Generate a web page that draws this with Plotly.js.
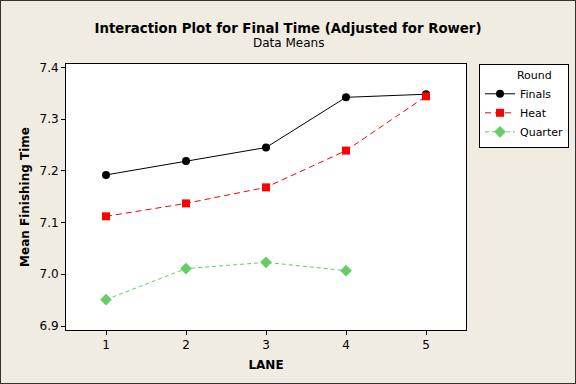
<!DOCTYPE html>
<html>
<head>
<meta charset="utf-8">
<script src="https://cdn.plot.ly/plotly-3.0.1.min.js"></script>
<style>
  html, body { margin: 0; padding: 0; background: #F0ECE2; }
  #wrap { position: relative; width: 576px; height: 384px; }
  #chart { width: 576px; height: 384px; }
  #frame { position: absolute; left: 0; top: 0; width: 574px; height: 382px; border: 1px solid #333; pointer-events: none; }
</style>
</head>
<body>
<div id="wrap"><div id="chart"></div><div id="frame"></div></div>
<script>
const lanes = [1, 2, 3, 4, 5];
const finals = [7.192, 7.219, 7.245, 7.342, 7.348];
const heat = [7.112, 7.137, 7.168, 7.239, 7.344];
const quarterLanes = [1, 2, 3, 4];
const quarter = [6.951, 7.011, 7.023, 7.007];
const yTicks = [6.9, 7.0, 7.1, 7.2, 7.3, 7.4];

const font = 'Tahoma, "DejaVu Sans", sans-serif';

const traces = [
  { x: lanes, y: finals, name: 'Finals', mode: 'lines+markers',
    line: { color: '#000000', width: 1, dash: 'solid' },
    marker: { color: '#000000', symbol: 'circle', size: 8 } },
  { x: lanes, y: heat, name: 'Heat', mode: 'lines+markers',
    line: { color: '#FF0000', width: 1, dash: '6px,4px' },
    marker: { color: '#FF0000', symbol: 'square', size: 8 } },
  { x: quarterLanes, y: quarter, name: 'Quarter', mode: 'lines+markers',
    line: { color: '#66CC66', width: 1, dash: '4px,3px' },
    marker: { color: '#66CC66', symbol: 'diamond', size: 9 } }
];

const layout = {
  width: 576, height: 384,
  paper_bgcolor: '#F0ECE2', plot_bgcolor: '#FFFFFF',
  margin: { l: 66, r: 110, t: 64, b: 54 },
  font: { family: font, size: 11, color: '#000000' },
  title: { text: '<b>Interaction Plot for Final Time (Adjusted for Rower)</b>',
    font: { family: font, size: 13.3, color: '#000000' },
    x: 0.5, xref: 'container', xanchor: 'center', y: 1 - 28.5/384, yref: 'container', yanchor: 'middle' },
  annotations: [
    { text: 'Data Means', xref: 'paper', yref: 'paper', x: 0.5 * (576/400) - 66/400, y: 1 + 21/266,
      xanchor: 'center', yanchor: 'middle', showarrow: false, font: { family: font, size: 12, color: '#000' } }
  ],
  xaxis: {
    range: [0.5, 5.5], tickvals: lanes, ticktext: lanes.map(String),
    showline: true, linecolor: '#000', linewidth: 1, mirror: true,
    ticks: 'outside', ticklen: 4, tickcolor: '#000', showgrid: false, zeroline: false,
    tickfont: { family: font, size: 12, color: '#000' },
    title: { text: '<b>LANE</b>', font: { family: font, size: 12, color: '#000' }, standoff: 9 }
  },
  yaxis: {
    range: [6.8923, 7.4064], tickvals: yTicks, ticktext: yTicks.map(v => v.toFixed(1)),
    showline: true, linecolor: '#000', linewidth: 1, mirror: true,
    ticks: 'outside', ticklen: 4, tickcolor: '#000', showgrid: false, zeroline: false,
    tickfont: { family: font, size: 12, color: '#000' },
    title: { text: '<b>Mean Finishing Time</b>', font: { family: font, size: 12, color: '#000' }, standoff: 7 }
  },
  legend: {
    x: 479/576, xref: 'container', y: 1 - 64/384, yref: 'container', xanchor: 'left', yanchor: 'top',
    bgcolor: '#FFFFFF', bordercolor: '#000000', borderwidth: 1,
    font: { family: font, size: 11, color: '#000' },
    title: { text: '          Round&nbsp;&nbsp;&nbsp;&nbsp;', font: { family: font, size: 11, color: '#000' } },
    tracegroupgap: 0, itemwidth: 30
  },
  showlegend: true
};

Plotly.newPlot('chart', traces, layout, { displayModeBar: false, staticPlot: true });
</script>
</body>
</html>
